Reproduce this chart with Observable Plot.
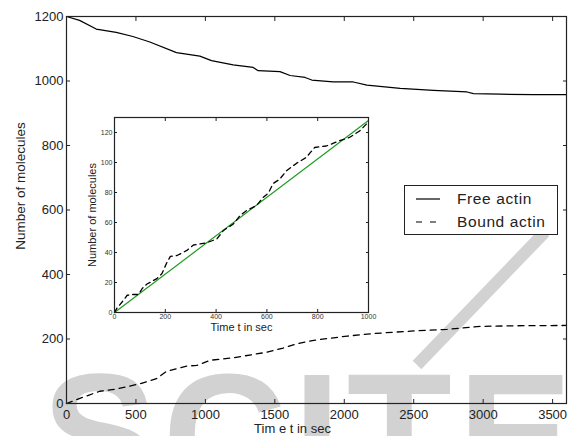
<!DOCTYPE html>
<html>
<head>
<meta charset="utf-8">
<script src="https://cdn.jsdelivr.net/npm/d3@7"></script>
<script src="https://cdn.jsdelivr.net/npm/@observablehq/plot@0.6"></script>
<style>
  html, body { margin: 0; padding: 0; background: white; }
  #wrap { position: relative; width: 569px; height: 436px; overflow: hidden; font-family: "Liberation Sans", Arial, sans-serif; }
  #wrap > * { position: absolute; }
  #legend { left: 404px; top: 185px; width: 152px; height: 48px; border: 1px solid #222; background: white; }
</style>
</head>
<body>
<div id="wrap">
  <svg id="wm" width="569" height="436" style="left:0;top:0">
    <line x1="545" y1="232" x2="417" y2="365" stroke="#d2d2d2" stroke-width="12"/>
    <text x="42" y="494" font-size="172" font-weight="bold" fill="#d2d2d2" letter-spacing="6" font-family="Liberation Sans, Arial, sans-serif">SCITE</text>
  </svg>
</div>
<script>
// ---- data ----
const freeTime  = [0, 94, 214, 358, 478, 600, 792, 960, 1044, 1200, 1344, 1380, 1537, 1610, 1718, 1766, 1920, 2065, 2163, 2403, 2643, 2884, 2930, 3124, 3365, 3600];
const freeCount = [1200, 1188, 1161, 1151, 1138, 1121, 1088, 1077, 1063, 1050, 1042, 1032, 1029, 1017, 1011, 1003, 997, 997, 987, 977, 971, 966, 961, 959, 958, 958];
const boundTime  = [0, 96, 240, 360, 527, 648, 720, 865, 937, 1034, 1202, 1443, 1560, 1660, 1780, 2022, 2212, 2500, 2740, 2980, 3220, 3600];
const boundCount = [0, 16, 38, 45, 61, 77, 100, 116, 118, 134, 142, 159, 172, 185, 196, 209, 217, 225, 230, 239, 241, 242];
const insetTime  = [0, 10, 30, 50, 70, 95, 109, 128, 167, 187, 207, 220, 246, 285, 311, 363, 403, 429, 468, 494, 520, 559, 586, 605, 625, 651, 677, 716, 755, 788, 834, 860, 886, 925, 965, 1000];
const insetCount = [0, 3, 7, 11.5, 12, 12, 16, 19, 22.6, 26, 33.6, 37.4, 38, 41.4, 45, 46.5, 49, 54.7, 59, 64.6, 68, 71.3, 76.8, 79.5, 86, 89, 94.5, 99.4, 103.4, 110, 111, 112.7, 114.5, 116.7, 121, 127];
const fitTime  = [0, 1000];
const fitCount = [0, 128];
const mainXTicks = [0, 500, 1000, 1500, 2000, 2500, 3000, 3500];
const mainYTicks = [0, 200, 400, 600, 800, 1000, 1200];
const insetXTicks = [0, 200, 400, 600, 800, 1000];
const insetYTicks = [0, 20, 40, 60, 80, 100, 120];
const seriesNames = ["Free actin", "Bound actin"];
const xLabel = "Tim e t in sec";
const yLabel = "Number of molecules";
const insetXLabel = "Time t in sec";

const zip = (xs, ys) => xs.map((t, i) => ({t, v: ys[i]}));
const ink = "#222";
const font = "Liberation Sans, Arial, sans-serif";
const plain = d => String(d);

const main = Plot.plot({
  width: 569, height: 436,
  marginLeft: 66, marginRight: 3, marginTop: 16, marginBottom: 33,
  style: {background: "transparent", fontFamily: font, color: ink, overflow: "visible"},
  x: {domain: [0, 3600]},
  y: {domain: [0, 1200]},
  marks: [
    Plot.line(zip(freeTime, freeCount), {x: "t", y: "v", stroke: "black", strokeWidth: 1.2}),
    Plot.line(zip(boundTime, boundCount), {x: "t", y: "v", stroke: "black", strokeWidth: 1.3, strokeDasharray: "6,5"}),
    Plot.frame({stroke: ink, strokeWidth: 1.2}),
    Plot.axisX(mainXTicks, {anchor: "bottom", tickSize: -4, tickPadding: 10, fontSize: 13, label: null, letterSpacing: 1, tickFormat: plain, fill: ink}),
    Plot.axisX(mainXTicks, {anchor: "top", tickSize: -4, tickFormat: () => "", label: null}),
    Plot.axisY(mainYTicks, {anchor: "left", tickSize: -4, tickPadding: 7, fontSize: 13, label: null, letterSpacing: 1, tickFormat: plain, fill: ink}),
    Plot.axisY(mainYTicks, {anchor: "right", tickSize: -4, tickFormat: () => "", label: null}),
    Plot.text([xLabel], {frameAnchor: "bottom", lineAnchor: "middle", dx: -24, dy: 25, fontSize: 13, letterSpacing: 1, fill: ink}),
    Plot.text([yLabel], {frameAnchor: "left", textAnchor: "middle", lineAnchor: "middle", rotate: -90, dx: -46, dy: -24, fontSize: 13.5, fill: ink})
  ]
});

const inset = Plot.plot({
  width: 300, height: 235,
  marginLeft: 40, marginRight: 6, marginTop: 10, marginBottom: 30,
  style: {background: "transparent", fontFamily: font, color: ink, overflow: "visible"},
  x: {domain: [0, 1000]},
  y: {domain: [0, 130]},
  marks: [
    Plot.frame({fill: "white"}),
    Plot.line(zip(fitTime, fitCount), {x: "t", y: "v", stroke: "#1f9a1f", strokeWidth: 1.2}),
    Plot.line(zip(insetTime, insetCount), {x: "t", y: "v", stroke: "black", strokeWidth: 1.3, strokeDasharray: "5,4"}),
    Plot.frame({stroke: ink, strokeWidth: 1.2}),
    Plot.axisX(insetXTicks, {anchor: "bottom", tickSize: -3, tickPadding: 5, fontSize: 7, label: null, tickFormat: plain, fill: "#333"}),
    Plot.axisX(insetXTicks, {anchor: "top", tickSize: -3, tickFormat: () => "", label: null}),
    Plot.axisY(insetYTicks, {anchor: "left", tickSize: -3, tickPadding: 5, fontSize: 7, label: null, tickFormat: plain, fill: "#333"}),
    Plot.axisY(insetYTicks, {anchor: "right", tickSize: -3, tickFormat: () => "", label: null}),
    Plot.text([insetXLabel], {frameAnchor: "bottom", lineAnchor: "middle", dy: 15, fontSize: 11, fill: ink}),
    Plot.text([yLabel], {frameAnchor: "left", textAnchor: "middle", lineAnchor: "middle", rotate: -90, dx: -22, fontSize: 11, fill: ink})
  ]
});

const wrap = document.getElementById("wrap");
main.style.left = "0px"; main.style.top = "0px"; main.style.position = "absolute";
inset.style.left = "74px"; inset.style.top = "107px"; inset.style.position = "absolute";
wrap.appendChild(main);
wrap.appendChild(inset);

// legend
const legend = document.createElement("div");
legend.id = "legend";
wrap.appendChild(legend);
const sw = d3.select(legend).append("svg").attr("width", 152).attr("height", 48);
const dashes = [null, "6,8"];
seriesNames.forEach((name, i) => {
  const y = 13 + i * 23;
  sw.append("line").attr("x1", 11).attr("x2", 35).attr("y1", y).attr("y2", y)
    .attr("stroke", "black").attr("stroke-width", 1.2).attr("stroke-dasharray", dashes[i]);
  sw.append("text").attr("x", 52).attr("y", y + 5).attr("font-size", 15.5).attr("letter-spacing", 0.6)
    .attr("font-family", font).attr("fill", ink).text(name);
});
</script>
</body>
</html>
